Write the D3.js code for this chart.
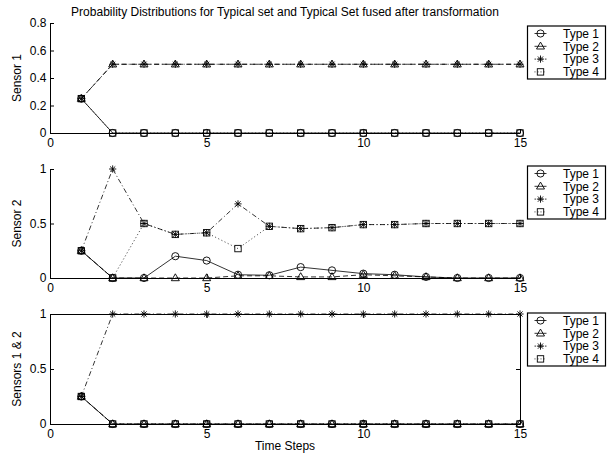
<!DOCTYPE html>
<html><head><meta charset="utf-8">
<script src="https://cdn.jsdelivr.net/npm/d3@7"></script>
<style>
body{margin:0;background:#fff;}
svg{display:block;}
text{font-family:"Liberation Sans",Arial,Helvetica,sans-serif;fill:#000;}
</style></head><body>
<script>
// ---- data ----
const timeSteps = [1,2,3,4,5,6,7,8,9,10,11,12,13,14,15];
const typeNames = ["Type 1","Type 2","Type 3","Type 4"];
const xTicks = [0,5,10,15];

const sensor1Type1 = [0.25,0,0,0,0,0,0,0,0,0,0,0,0,0,0];
const sensor1Type2 = [0.25,0.5,0.5,0.5,0.5,0.5,0.5,0.5,0.5,0.5,0.5,0.5,0.5,0.5,0.5];
const sensor1Type3 = [0.25,0.5,0.5,0.5,0.5,0.5,0.5,0.5,0.5,0.5,0.5,0.5,0.5,0.5,0.5];
const sensor1Type4 = [0.25,0,0,0,0,0,0,0,0,0,0,0,0,0,0];
const sensor1Ticks = [0,0.2,0.4,0.6,0.8];

const sensor2Type1 = [0.25,0,0,0.2,0.16,0.03,0.025,0.1,0.07,0.04,0.03,0.01,0,0,0];
const sensor2Type2 = [0.25,0,0,0,0,0.02,0.02,0.01,0.01,0.03,0.02,0.01,0,0,0];
const sensor2Type3 = [0.25,1.0,0.5,0.4,0.415,0.68,0.474,0.453,0.462,0.49,0.49,0.5,0.5,0.5,0.5];
const sensor2Type4 = [0.25,0,0.5,0.4,0.415,0.27,0.474,0.453,0.462,0.49,0.49,0.5,0.5,0.5,0.5];
const sensor2Ticks = [0,0.5,1];

const fusedType1 = [0.25,0,0,0,0,0,0,0,0,0,0,0,0,0,0];
const fusedType2 = [0.25,0,0,0,0,0,0,0,0,0,0,0,0,0,0];
const fusedType3 = [0.25,1,1,1,1,1,1,1,1,1,1,1,1,1,1];
const fusedType4 = [0.25,0,0,0,0,0,0,0,0,0,0,0,0,0,0];
const fusedTicks = [0,0.5,1];

// ---- style ----
const dashes = [null, "5,3", "5,2.5,1,2.5", "1,2.5"];
const W = 616, H = 454;
const FS = "12px";
const svg = d3.select("body").append("svg").attr("width", W).attr("height", H);
const X0 = 50, X1 = 520;
const x = d3.scaleLinear().domain([0,15]).range([X0, X1]);

function marker(g, type, cx, cy){
  const s = 3.6;
  if(type===0){
    g.append("circle").attr("cx",cx).attr("cy",cy).attr("r",s).attr("fill","none").attr("stroke","#000").attr("stroke-width",0.9);
  } else if(type===1){
    g.append("path").attr("d",`M${cx},${cy-s-0.6}L${cx+s+0.4},${cy+s*0.75}L${cx-s-0.4},${cy+s*0.75}Z`).attr("fill","none").attr("stroke","#000").attr("stroke-width",0.9);
  } else if(type===2){
    const r = 3.6, d = r*0.72;
    g.append("path").attr("d",`M${cx-r},${cy}H${cx+r}M${cx},${cy-r}V${cy+r}M${cx-d},${cy-d}L${cx+d},${cy+d}M${cx-d},${cy+d}L${cx+d},${cy-d}`).attr("stroke","#000").attr("stroke-width",0.9);
  } else {
    g.append("rect").attr("x",cx-3.2).attr("y",cy-3.2).attr("width",6.4).attr("height",6.4).attr("fill","none").attr("stroke","#000").attr("stroke-width",0.9);
  }
}

function panel(yTop, yBot, ymax, ticks, series, label, box, legendTop){
  const y = d3.scaleLinear().domain([0,ymax]).range([yBot, yTop]);
  const g = svg.append("g");
  const xa = g.append("g").attr("transform",`translate(0,${yBot})`)
    .call(d3.axisBottom(x).tickValues(xTicks).tickFormat(d3.format("d")).tickSizeInner(-4).tickSizeOuter(0).tickPadding(5));
  const ya = g.append("g").attr("transform",`translate(${X0},0)`)
    .call(d3.axisLeft(y).tickValues(ticks).tickFormat(d=>String(d)).tickSizeInner(-4).tickSizeOuter(0).tickPadding(3.5));
  [xa,ya].forEach(a=>{
    a.select(".domain").attr("stroke","#000").attr("stroke-width",1);
    a.selectAll(".tick line").attr("stroke","#000").attr("stroke-width",1);
    a.selectAll(".tick text").attr("font-size",FS).attr("font-family","Liberation Sans, Arial, sans-serif").attr("fill","#000");
  });
  if(box){
    g.append("g").attr("transform",`translate(${X1},0)`)
      .call(d3.axisRight(y).tickValues(ticks).tickFormat("").tickSizeInner(-4).tickSizeOuter(0))
      .call(a=>{a.select(".domain").attr("stroke","#000");a.selectAll(".tick line").attr("stroke","#000");});
    g.append("g").attr("transform",`translate(0,${yTop})`)
      .call(d3.axisTop(x).tickValues(xTicks).tickFormat("").tickSizeInner(-4).tickSizeOuter(0))
      .call(a=>{a.select(".domain").attr("stroke","#000");a.selectAll(".tick line").attr("stroke","#000");});
  }
  const line = d3.line().x((d,i)=>x(timeSteps[i])).y(d=>y(d));
  series.forEach((vals, k)=>{
    g.append("path").attr("d", line(vals)).attr("fill","none").attr("stroke","#000")
      .attr("stroke-width",0.8).attr("stroke-dasharray", dashes[k]);
    const mg = g.append("g");
    vals.forEach((v,i)=> marker(mg, k, x(timeSteps[i]), y(v)));
  });
  g.append("text").attr("transform",`translate(21,${(yTop+yBot)/2}) rotate(-90)`)
    .attr("text-anchor","middle").attr("font-size",FS).text(label);
  const lx = 527.5, lw = 78, lh = 53;
  const lg = svg.append("g");
  lg.append("rect").attr("x",lx).attr("y",legendTop).attr("width",lw).attr("height",lh)
    .attr("fill","#fff").attr("stroke","#000").attr("stroke-width",1.2);
  typeNames.forEach((name,k)=>{
    const ry = legendTop + 7.5 + k*12.8;
    lg.append("line").attr("x1",lx+7).attr("x2",lx+19).attr("y1",ry).attr("y2",ry)
      .attr("stroke","#000").attr("stroke-width",0.8).attr("stroke-dasharray", k===2?"1.5,2":(k===3?"1,2":null));
    marker(lg, k, lx+13, ry);
    lg.append("text").attr("x",lx+35.5).attr("y",ry+4.3).attr("font-size",FS).text(name);
  });
}

panel(23, 133, 0.8, sensor1Ticks, [sensor1Type1,sensor1Type2,sensor1Type3,sensor1Type4], "Sensor 1", false, 26);
panel(169, 278, 1, sensor2Ticks, [sensor2Type1,sensor2Type2,sensor2Type3,sensor2Type4], "Sensor 2", false, 166);
panel(314, 424, 1, fusedTicks, [fusedType1,fusedType2,fusedType3,fusedType4], "Sensors 1 & 2", true, 313);

svg.append("text").attr("x",(X0+X1)/2).attr("y",16).attr("text-anchor","middle")
  .attr("font-size",FS).text("Probability Distributions for Typical set and Typical Set fused after transformation");
svg.append("text").attr("x",(X0+X1)/2).attr("y",450).attr("text-anchor","middle")
  .attr("font-size",FS).text("Time Steps");
</script>
</body></html>
